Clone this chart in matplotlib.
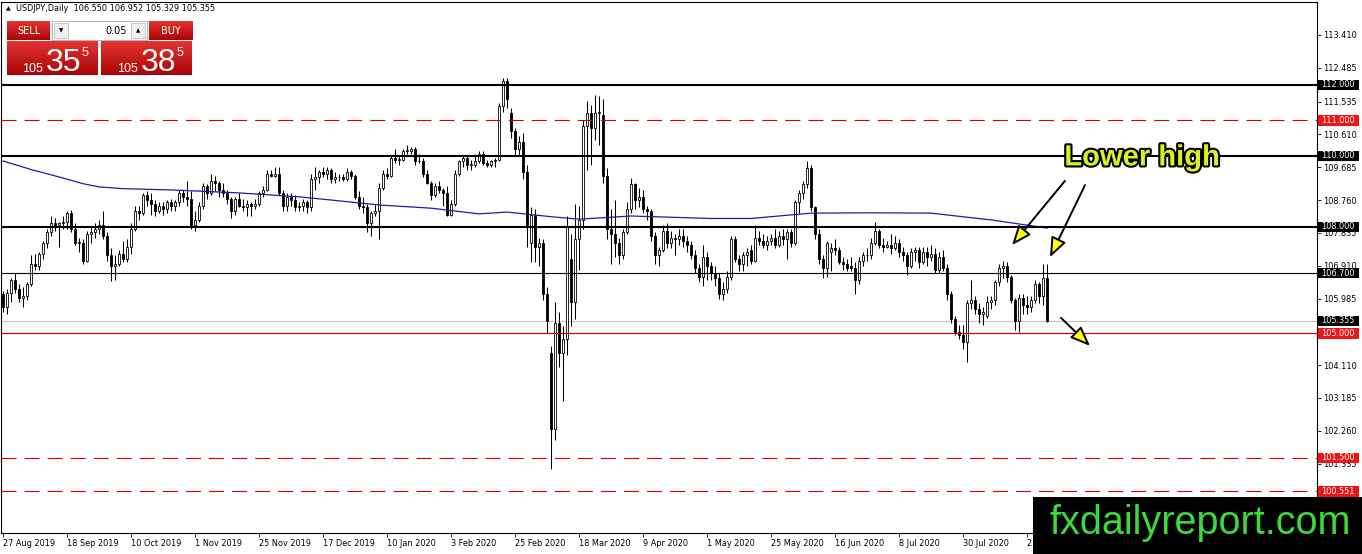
import matplotlib
matplotlib.use("Agg")
import matplotlib.pyplot as plt
import matplotlib.patheffects as pe
import numpy as np
from matplotlib.patches import Rectangle
from matplotlib.transforms import Bbox, TransformedBbox, blended_transform_factory

plt.rcParams["lines.scale_dashes"] = False

W, H, DPI = 1362, 554, 100

# USDJPY daily candles, 27 Aug 2019 .. 28 Aug 2020
opens = [
    106.10, 105.75, 106.15, 106.50, 106.25, 106.00, 106.05, 106.40, 106.95, 106.90,
    107.25, 107.55, 107.85, 108.10, 108.05, 108.10, 108.15, 108.40, 107.95, 107.55,
    107.55, 107.05, 107.80, 107.85, 107.95, 108.05, 107.75, 107.20, 106.90, 106.95,
    107.25, 107.10, 107.45, 107.95, 108.45, 108.40, 108.90, 108.75, 108.65, 108.45,
    108.60, 108.50, 108.70, 108.60, 108.70, 108.95, 108.85, 108.80, 108.05, 108.20,
    108.60, 109.15, 108.95, 109.30, 109.25, 109.05, 108.95, 108.80, 108.45, 108.80,
    108.60, 108.55, 108.65, 108.60, 108.65, 108.95, 109.05, 109.50, 109.45, 109.50,
    108.95, 108.60, 108.85, 108.75, 108.55, 108.60, 108.70, 108.55, 109.35, 109.40,
    109.55, 109.50, 109.60, 109.35, 109.40, 109.40, 109.35, 109.55, 109.45, 108.85,
    108.60, 108.55, 108.10, 108.40, 108.45, 109.10, 109.50, 109.45, 109.95, 109.90,
    109.90, 110.15, 110.15, 110.20, 109.85, 109.85, 109.50, 109.25, 108.90, 109.15,
    109.05, 108.95, 108.35, 108.65, 109.50, 109.85, 109.95, 109.75, 109.75, 109.85,
    110.05, 109.80, 109.75, 109.85, 109.90, 111.40, 112.10, 111.20, 110.70, 110.20,
    110.40, 109.55, 107.55, 108.35, 107.45, 107.55, 106.10, 104.45, 102.30, 105.30,
    104.45, 104.85, 107.10, 105.90, 107.65, 108.20, 110.85, 111.20, 110.80, 111.20,
    111.15, 109.45, 107.95, 107.80, 107.55, 107.20, 107.85, 108.50, 109.20, 108.75,
    108.85, 108.50, 108.45, 107.75, 107.20, 107.35, 107.90, 107.55, 107.70, 107.65,
    107.75, 107.60, 107.50, 107.20, 106.85, 106.60, 107.15, 106.90, 106.70, 106.55,
    106.10, 106.25, 106.60, 107.65, 107.10, 106.95, 107.20, 107.35, 107.05, 107.70,
    107.60, 107.50, 107.60, 107.70, 107.50, 107.75, 107.65, 107.85, 107.55, 108.70,
    108.95, 109.20, 109.65, 108.55, 107.80, 107.10, 106.85, 107.30, 107.40, 107.35,
    107.00, 106.95, 106.90, 106.85, 106.50, 107.05, 107.20, 107.20, 107.55, 107.90,
    107.50, 107.45, 107.50, 107.40, 107.55, 107.30, 107.20, 106.90, 107.30, 107.35,
    107.00, 107.30, 107.15, 107.25, 106.80, 107.15, 106.85, 106.10, 105.40, 105.05,
    104.95, 104.75, 105.85, 105.95, 105.70, 105.55, 105.50, 105.90, 105.95, 106.45,
    106.85, 106.90, 106.60, 105.95, 105.35, 106.00, 105.80, 105.75, 105.95, 106.40,
    106.05, 106.55,
]
highs = [
    106.20, 106.25, 106.55, 106.70, 106.40, 106.30, 106.45, 107.20, 107.25, 107.30,
    107.60, 107.95, 108.30, 108.25, 108.15, 108.30, 108.45, 108.48, 108.10, 107.70,
    107.65, 107.90, 108.00, 108.10, 108.20, 108.45, 107.85, 107.40, 107.20, 107.35,
    107.60, 107.65, 108.10, 108.60, 108.60, 108.95, 109.00, 108.95, 108.75, 108.70,
    108.70, 108.75, 108.80, 108.75, 109.05, 109.05, 109.30, 109.00, 108.45, 108.70,
    109.25, 109.20, 109.50, 109.45, 109.30, 109.25, 109.05, 108.85, 108.85, 108.95,
    108.80, 108.75, 108.70, 108.80, 109.00, 109.15, 109.60, 109.60, 109.70, 109.70,
    109.05, 108.95, 108.95, 108.90, 108.70, 108.80, 108.75, 109.50, 109.70, 109.60,
    109.70, 109.70, 109.65, 109.55, 109.50, 109.50, 109.65, 109.60, 109.50, 109.00,
    108.85, 108.65, 108.45, 108.65, 109.25, 109.60, 109.65, 110.00, 110.20, 110.00,
    110.20, 110.30, 110.25, 110.25, 110.05, 109.95, 109.60, 109.30, 109.25, 109.30,
    109.10, 109.15, 108.75, 109.60, 109.90, 110.00, 110.00, 109.90, 110.05, 110.15,
    110.15, 109.90, 109.90, 109.95, 111.50, 112.20, 112.20, 111.35, 110.80, 110.55,
    110.65, 109.75, 108.55, 108.50, 107.70, 107.65, 106.30, 104.65, 105.90, 105.60,
    105.20, 108.30, 107.80, 108.65, 108.60, 111.00, 111.55, 111.45, 111.72, 111.70,
    111.60, 109.65, 108.50, 108.75, 107.70, 107.95, 108.70, 109.38, 109.25, 109.10,
    109.05, 108.60, 108.50, 107.85, 107.45, 108.05, 108.10, 107.90, 107.80, 107.95,
    107.95, 107.75, 107.60, 107.35, 106.95, 107.50, 107.30, 107.00, 106.90, 106.70,
    106.45, 106.75, 107.75, 107.75, 107.20, 107.30, 107.40, 107.50, 108.05, 107.90,
    107.80, 107.75, 107.80, 107.95, 107.90, 107.95, 107.95, 107.95, 108.75, 109.05,
    109.30, 109.85, 109.75, 108.60, 107.95, 107.20, 107.60, 107.55, 107.65, 107.45,
    107.15, 107.10, 107.15, 107.00, 107.15, 107.30, 107.40, 107.70, 108.15, 107.95,
    107.70, 107.60, 107.80, 107.75, 107.65, 107.45, 107.30, 107.40, 107.45, 107.45,
    107.45, 107.45, 107.50, 107.40, 107.30, 107.35, 106.95, 106.20, 105.50, 105.25,
    105.25, 105.95, 106.50, 106.05, 105.85, 105.75, 106.05, 106.05, 106.50, 106.95,
    107.05, 107.00, 106.65, 106.00, 106.10, 106.10, 106.05, 106.05, 106.50, 106.45,
    106.95, 106.952,
]
lows = [
    105.60, 105.55, 105.90, 106.15, 105.90, 105.75, 105.95, 106.35, 106.80, 106.80,
    107.10, 107.40, 107.75, 107.90, 107.45, 107.95, 107.95, 107.85, 107.50, 107.30,
    106.95, 107.00, 107.55, 107.70, 107.80, 107.65, 107.05, 106.48, 106.50, 106.90,
    107.00, 107.00, 107.25, 107.90, 108.20, 108.35, 108.60, 108.35, 108.30, 108.40,
    108.35, 108.40, 108.45, 108.45, 108.60, 108.70, 108.60, 107.95, 107.90, 108.15,
    108.50, 108.80, 108.90, 109.00, 108.85, 108.85, 108.65, 108.25, 108.35, 108.55,
    108.45, 108.30, 108.30, 108.50, 108.60, 108.85, 109.00, 109.40, 109.40, 108.90,
    108.45, 108.45, 108.60, 108.45, 108.45, 108.45, 108.40, 108.45, 109.05, 109.25,
    109.40, 109.35, 109.25, 109.25, 109.30, 109.30, 109.30, 109.35, 108.80, 108.50,
    108.40, 107.85, 107.75, 108.30, 107.65, 109.05, 109.35, 109.40, 109.80, 109.75,
    109.85, 110.05, 110.05, 109.75, 109.80, 109.40, 109.20, 108.75, 108.85, 108.95,
    108.60, 108.30, 108.30, 108.60, 109.45, 109.70, 109.60, 109.60, 109.70, 109.80,
    109.75, 109.70, 109.70, 109.70, 109.85, 111.25, 111.35, 110.50, 110.00, 110.00,
    109.35, 107.45, 107.00, 107.00, 106.90, 105.95, 105.00, 101.18, 102.00, 104.05,
    103.10, 104.40, 105.20, 105.40, 106.80, 107.95, 109.60, 109.75, 110.45, 110.30,
    109.25, 107.65, 106.95, 107.15, 106.95, 107.10, 107.80, 108.40, 108.50, 108.55,
    108.40, 108.20, 107.60, 106.95, 106.90, 107.30, 107.40, 107.40, 107.20, 107.50,
    107.45, 107.30, 107.10, 106.70, 106.45, 106.35, 106.50, 106.50, 106.35, 105.98,
    105.95, 106.15, 106.50, 107.00, 106.75, 106.75, 106.90, 106.95, 107.00, 107.50,
    107.40, 107.35, 107.50, 107.40, 107.45, 107.50, 107.10, 107.45, 107.50, 108.40,
    108.80, 109.10, 108.45, 107.65, 106.95, 106.55, 106.60, 106.75, 107.20, 106.95,
    106.80, 106.75, 106.75, 106.10, 106.40, 106.90, 107.05, 107.10, 107.50, 107.40,
    107.30, 107.40, 107.25, 107.35, 107.15, 107.05, 106.65, 106.85, 107.05, 106.85,
    106.95, 106.90, 107.05, 106.70, 106.70, 106.75, 105.95, 105.30, 104.95, 104.85,
    104.55, 104.20, 105.70, 105.55, 105.30, 105.25, 105.45, 105.70, 105.80, 106.35,
    106.55, 106.45, 105.85, 105.10, 105.05, 105.55, 105.55, 105.60, 105.85, 105.85,
    105.80, 105.329,
]
closes = [
    105.75, 106.15, 106.50, 106.25, 106.00, 106.05, 106.40, 106.95, 106.90, 107.25,
    107.55, 107.85, 108.10, 108.05, 108.10, 108.15, 108.40, 107.95, 107.55, 107.55,
    107.05, 107.80, 107.85, 107.95, 108.05, 107.75, 107.20, 106.90, 106.95, 107.25,
    107.10, 107.45, 107.95, 108.45, 108.40, 108.90, 108.75, 108.65, 108.45, 108.60,
    108.50, 108.70, 108.60, 108.70, 108.95, 108.85, 108.80, 108.05, 108.20, 108.60,
    109.15, 108.95, 109.30, 109.25, 109.05, 108.95, 108.80, 108.45, 108.80, 108.60,
    108.55, 108.65, 108.60, 108.65, 108.95, 109.05, 109.50, 109.45, 109.50, 108.95,
    108.60, 108.85, 108.75, 108.55, 108.60, 108.70, 108.55, 109.35, 109.40, 109.55,
    109.50, 109.60, 109.35, 109.40, 109.40, 109.35, 109.55, 109.45, 108.85, 108.60,
    108.55, 108.10, 108.40, 108.45, 109.10, 109.50, 109.45, 109.95, 109.90, 109.90,
    110.15, 110.15, 110.20, 109.85, 109.85, 109.50, 109.25, 108.90, 109.15, 109.05,
    108.95, 108.35, 108.65, 109.50, 109.85, 109.95, 109.75, 109.75, 109.85, 110.05,
    109.80, 109.75, 109.85, 109.90, 111.40, 112.10, 111.60, 110.70, 110.20, 110.40,
    109.55, 108.05, 108.35, 107.45, 107.55, 106.10, 105.35, 102.30, 105.30, 104.45,
    104.85, 108.00, 105.90, 107.65, 108.20, 110.85, 111.20, 110.80, 111.20, 111.25,
    109.45, 107.95, 107.80, 107.55, 107.20, 107.85, 108.50, 109.20, 108.75, 108.85,
    108.50, 108.45, 107.75, 107.20, 107.35, 107.90, 107.55, 107.70, 107.65, 107.75,
    107.60, 107.50, 107.20, 106.85, 106.60, 107.15, 106.90, 106.70, 106.55, 106.10,
    106.25, 106.60, 107.65, 107.10, 106.95, 107.20, 107.30, 107.05, 107.70, 107.60,
    107.50, 107.60, 107.70, 107.50, 107.75, 107.65, 107.85, 107.55, 108.70, 108.95,
    109.20, 109.65, 108.55, 107.80, 107.10, 106.85, 107.55, 107.40, 107.35, 107.00,
    106.95, 106.85, 106.85, 106.50, 107.05, 107.20, 107.20, 107.55, 107.90, 107.50,
    107.45, 107.50, 107.40, 107.55, 107.30, 107.20, 106.90, 107.30, 107.35, 107.00,
    107.30, 107.15, 107.25, 106.80, 107.15, 106.85, 106.10, 105.40, 105.05, 104.95,
    104.75, 105.85, 105.95, 105.70, 105.55, 105.60, 105.90, 105.95, 106.45, 106.85,
    106.90, 106.60, 105.95, 105.35, 106.00, 105.80, 105.75, 105.95, 106.40, 106.05,
    106.55, 105.355,
]

# 200-day moving average, read at a number of bars
ma_idx = [0, 7, 14, 20, 24, 30, 43, 59, 74, 82, 94, 107, 119, 126, 137, 144,
          157, 177, 187, 202, 217, 232, 247, 261]
ma_val = [109.86, 109.62, 109.41, 109.22, 109.13, 109.08, 109.04, 108.96,
          108.85, 108.76, 108.62, 108.53, 108.37, 108.42, 108.29, 108.22,
          108.31, 108.24, 108.24, 108.39, 108.40, 108.39, 108.20, 107.97]

date_idx = [0, 16, 32, 48, 64, 80, 96, 112, 128, 144, 160, 176, 192, 208, 224, 240, 256]
date_labels = ["27 Aug 2019", "18 Sep 2019", "10 Oct 2019", "1 Nov 2019",
               "25 Nov 2019", "17 Dec 2019", "10 Jan 2020", "3 Feb 2020",
               "25 Feb 2020", "18 Mar 2020", "9 Apr 2020", "1 May 2020",
               "25 May 2020", "16 Jun 2020", "8 Jul 2020", "30 Jul 2020",
               "21 Aug 2020"]

price_ticks = [113.410, 112.485, 111.535, 110.610, 109.685, 108.760, 107.835,
               106.910, 105.985, 104.110, 103.185, 102.260, 101.335]

# horizontal levels drawn on the chart
level_prices = [112.000, 111.000, 110.000, 108.000, 106.700, 105.000, 101.500, 100.551]
last_price = 105.355

RED = "#d40000"
DASH = (0, (10.8, 5.8))
LEVEL_STYLE = {
    112.000: dict(color="black", lw=1.5, ls="-"),
    111.000: dict(color=RED, lw=0.8, ls=DASH),
    110.000: dict(color="black", lw=1.5, ls="-"),
    108.000: dict(color="black", lw=1.5, ls="-"),
    106.700: dict(color="black", lw=0.8, ls="-"),
    105.000: dict(color=RED, lw=0.9, ls="-"),
    101.500: dict(color=RED, lw=0.8, ls=DASH),
    100.551: dict(color=RED, lw=0.8, ls=DASH),
}
BOX_COLOR = {112.000: "black", 111.000: "#ec1515", 110.000: "black",
             108.000: "black", 106.700: "black", 105.000: "#ec1515",
             101.500: "#ec1515", 100.551: "#ec1515"}


def px_rect(fig, x0, y0, x1, y1, **kw):
    """Rectangle in figure pixels measured from the top-left corner."""
    r = Rectangle((x0 / W, 1 - y1 / H), (x1 - x0) / W, (y1 - y0) / H,
                  transform=fig.transFigure, **kw)
    fig.patches.append(r)
    return r


def px_text(fig, x, y, s, **kw):
    return fig.text(x / W, 1 - y / H, s, **kw)


def red_block(fig, x0, y0, x1, y1):
    a = fig.add_axes([x0 / W, 1 - y1 / H, (x1 - x0) / W, (y1 - y0) / H])
    grad = np.linspace(0, 1, 64).reshape(-1, 1)
    top = np.array([0.90, 0.20, 0.20])
    bot = np.array([0.66, 0.02, 0.02])
    img = top + grad[:, :, None] * (bot - top)
    a.imshow(img, aspect="auto", extent=(0, 1, 0, 1))
    a.set_axis_off()
    return a


fig = plt.figure(figsize=(W / DPI, H / DPI), dpi=DPI)
fig.patch.set_facecolor("white")

ax = fig.add_axes([1 / W, (H - 532.5) / H, 1316 / W, 530.5 / H])
ax.set_xlim(-0.5, 328.5)
ax.set_ylim(99.394, 114.338)

x = np.arange(len(closes))
o = np.array(opens)
c = np.array(closes)
hi = np.array(highs)
lo = np.array(lows)
up = c >= o
bottom = np.minimum(o, c)
height = np.maximum(np.abs(c - o), 0.015)

ax.vlines(x, lo, hi, color="black", lw=0.75, zorder=3)
ax.bar(x[up], height[up], bottom=bottom[up], width=0.55, color="white",
       edgecolor="black", linewidth=0.6, zorder=4)
ax.bar(x[~up], height[~up], bottom=bottom[~up], width=0.55, color="black",
       edgecolor="black", linewidth=0.6, zorder=4)

ax.plot(ma_idx, ma_val, color="#1c1ca8", lw=0.9, zorder=4.5)

ax.axhline(last_price, color="#c4c4c4", lw=0.8, zorder=1)
for p in level_prices:
    ax.axhline(p, zorder=5, **LEVEL_STYLE[p])

# axes look
for sp in ax.spines.values():
    sp.set_color("black")
    sp.set_linewidth(0.8)
ax.yaxis.tick_right()
ax.set_yticks(price_ticks)
ax.set_yticklabels([f"{p:.3f}" for p in price_ticks])
ax.tick_params(axis="y", length=3, width=0.6, pad=1.5, labelsize=5.9,
               colors="black")
ax.set_xticks(date_idx)
ax.set_xticklabels(date_labels, ha="left")
ax.tick_params(axis="x", length=3, width=0.6, pad=1.5, labelsize=5.9)

# the last date label runs under the watermark box; cut it there
clip = TransformedBbox(Bbox([[0, 0], [1033 / W, 1]]), fig.transFigure)
last_lbl = ax.get_xticklabels()[-1]
last_lbl.set_clip_box(clip)
last_lbl.set_clip_on(True)

# price boxes on the right scale
bt = blended_transform_factory(ax.transAxes, ax.transData)
box_x0 = (1318 - 1) / 1316
box_w = 41 / 1316
for p in level_prices + [last_price]:
    fc = BOX_COLOR.get(p, "black")
    ax.add_patch(Rectangle((box_x0, p - 0.145), box_w, 0.29, transform=bt,
                           facecolor=fc, edgecolor="none", clip_on=False,
                           zorder=6))
    ax.text((1321 - 1) / 1316, p, f"{p:.3f}", transform=bt, ha="left",
            va="center", fontsize=5.9, color="white", clip_on=False, zorder=7)

# annotations
ax.text(284.75, 109.96, "Lower high", ha="center", va="center",
        fontsize=21, fontweight="bold", family="Liberation Sans",
        color="#d8f21e", zorder=8,
        path_effects=[pe.withStroke(linewidth=3, foreground="black")])
arrows = [((265.5, 109.30), (252.25, 107.49)),
          ((270.5, 109.18), (261.75, 107.15)),
          ((264.5, 105.44), (271.75, 104.65))]
for tail, tip in arrows:
    ax.annotate("", xy=tip, xytext=tail, zorder=8,
                arrowprops=dict(arrowstyle="-|>,head_length=0.75,head_width=0.3",
                                mutation_scale=16, fc="#ffff10", ec="black",
                                lw=1.4, shrinkA=0, shrinkB=0))

# header line
px_text(fig, 6, 8.5, "\u25b2", fontsize=4.5, va="center", ha="left", color="black")
px_text(fig, 16, 8.5, "USDJPY,Daily  106.550 106.952 105.329 105.355",
        fontsize=5.9, va="center", ha="left", color="black")

# one-click trading panel
red_block(fig, 7, 21, 50, 40)
red_block(fig, 149, 21, 192, 40)
red_block(fig, 7, 41, 98, 75)
red_block(fig, 101, 41, 192, 75)
px_text(fig, 28.5, 30.5, "SELL", fontsize=7, color="white", ha="center", va="center")
px_text(fig, 170.5, 30.5, "BUY", fontsize=7, color="white", ha="center", va="center")
px_rect(fig, 52, 21, 147, 40, facecolor="white", edgecolor="#a8a8a8", lw=0.6)
px_rect(fig, 54, 23, 68, 38, facecolor="#eeeeee", edgecolor="#b4b4b4", lw=0.5)
px_rect(fig, 131, 23, 145, 38, facecolor="#eeeeee", edgecolor="#b4b4b4", lw=0.5)
px_text(fig, 61, 30.5, "\u25bc", fontsize=4, ha="center", va="center", color="black")
px_text(fig, 138, 30.5, "\u25b2", fontsize=4, ha="center", va="center", color="black")
px_text(fig, 127, 30.5, "0.05", fontsize=7, ha="right", va="center", color="black")

for bx, big in ((22, "35"), (117, "38")):
    px_text(fig, bx, 72, "105", fontsize=9, family="Liberation Sans",
            color="white", ha="left", va="baseline")
    px_text(fig, bx + 24, 71, big, fontsize=23, family="Liberation Sans",
            color="white", ha="left", va="baseline")
    px_text(fig, bx + 60, 56, "5", fontsize=9, family="Liberation Sans",
            color="white", ha="left", va="baseline")

# watermark
px_rect(fig, 1033, 497, 1362, 554, facecolor="black", edgecolor="none", zorder=10)
px_text(fig, 1200, 523, "fxdailyreport.com", fontsize=28.5,
        family="Liberation Sans", color="#3cd83c", ha="center", va="center",
        zorder=11)

fig.savefig("out.png", dpi=DPI)
